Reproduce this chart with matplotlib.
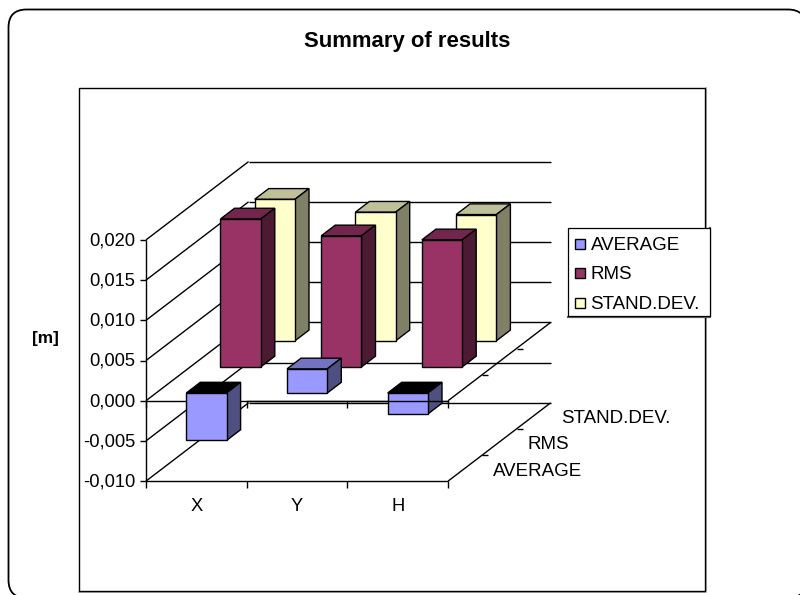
import matplotlib
matplotlib.use("Agg")
import matplotlib.pyplot as plt
from matplotlib.patches import FancyBboxPatch, Polygon, Rectangle

categories = ["X", "Y", "H"]
series_names = ["AVERAGE", "RMS", "STAND.DEV."]
average = [-0.0059, 0.0030, -0.0026]
rms = [0.0184, 0.0163, 0.0158]
stand_dev = [0.0176, 0.0160, 0.0157]
value_ticks = [-0.010, -0.005, 0.000, 0.005, 0.010, 0.015, 0.020]

face_colors = ["#9999FF", "#993366", "#FFFFCC"]
side_colors = ["#4F4F80", "#4D1A33", "#808066"]
top_colors = ["#7373BF", "#73264D", "#BFBF99"]

# Oblique projection of (category, depth, value) onto the canvas
ORIGIN_X, ZERO_Y = 146.0, 400.7
CATEGORY_W, PX_PER_UNIT = 100.7, 40.2 / 0.005
DEPTH_DX, DEPTH_DY = 34.2, -26.1

TICK_SIZE = 13.2
LABEL_SIZE = 13.5


def project(cat, depth, value):
    x = ORIGIN_X + cat * CATEGORY_W + depth * DEPTH_DX
    y = ZERO_Y - value * PX_PER_UNIT + depth * DEPTH_DY
    return x, y


plt.rcParams["font.family"] = "Liberation Sans"
fig = plt.figure(figsize=(8.0, 5.95), dpi=100)
ax = fig.add_axes([0, 0, 1, 1])
ax.set_xlim(0, 800)
ax.set_ylim(595, 0)
ax.axis("off")

# Rounded chart frame, running past the right and bottom edges, and inner plot frame
ax.add_patch(FancyBboxPatch((26.5, 27.5), 761.5, 552.5,
                            boxstyle="round,pad=18,rounding_size=18",
                            fc="white", ec="black", lw=1.3, zorder=0))
ax.plot([79, 705.8, 705.8], [592, 592, 88], color="#a0a0a0", lw=1.2, zorder=1)
ax.add_patch(Rectangle((79, 88), 626, 503, fc="white", ec="black", lw=1.0, zorder=1))

ax.text(407.5, 41.5, "Summary of results", ha="center", va="center", fontsize=15.9,
        fontweight="bold")
ax.text(45, 338, "[m]", ha="center", va="center", fontsize=12.4, fontweight="bold")

line = dict(color="black", lw=1.0, solid_capstyle="butt", zorder=2)
low, zero = value_ticks[0], 0.0
n_cat, n_ser = len(categories), len(series_names)

# Vertical axis, left wall diagonals and back wall gridlines
ax.plot(*zip(project(0, 0, low), project(0, 0, value_ticks[-1])), **line)
for v in value_ticks:
    ax.plot(*zip(project(0, 0, v), project(0, n_ser, v)), **line)
    ax.plot(*zip(project(0, n_ser, v), project(n_cat, n_ser, v)), **line)
    x, y = project(0, 0, v)
    ax.plot([x - 6, x], [y, y], **line)
    ax.text(x - 10.5, y + 1, f"{v:.3f}".replace(".", ","), ha="right", va="center",
            fontsize=TICK_SIZE)

# Floor and zero plane outlines with their ticks
for level in (low, zero):
    ax.plot(*zip(project(0, 0, level), project(n_cat, 0, level)), **line)
    ax.plot(*zip(project(n_cat, 0, level), project(n_cat, n_ser, level)), **line)
    for c in range(n_cat + 1):
        x, y = project(c, 0, level)
        ax.plot([x, x], [y, y + 7], **line)
    for d in range(1, n_ser):
        x, y = project(n_cat, d, level)
        ax.plot([x, x + 6], [y, y], **line)

for c, name in enumerate(categories):
    x, y = project(c + 0.5, 0, low)
    ax.text(x, y + 25, name, ha="center", va="center", fontsize=TICK_SIZE)

for d, name in enumerate(series_names):
    x, y = project(n_cat, d + 0.5, low)
    ax.text(x + 28, y + 3, name, ha="left", va="center", fontsize=LABEL_SIZE)


def draw_bar(cat, ser, value, zorder):
    """One 3D column: front, side and top faces from the baseline to value."""
    x0 = 0.30
    x1 = 0.70
    d0 = ser + 0.295
    d1 = ser + 0.705
    hi, lo = max(value, 0.0), min(value, 0.0)
    a, b = project(cat + x0, d0, hi), project(cat + x1, d0, hi)
    e, f = project(cat + x0, d0, lo), project(cat + x1, d0, lo)
    g, h = project(cat + x1, d1, hi), project(cat + x1, d1, lo)
    i = project(cat + x0, d1, hi)
    style = dict(ec="black", lw=1.0, joinstyle="miter", zorder=zorder)
    top = "black" if value < 0 else top_colors[ser]
    ax.add_patch(Polygon([a, b, g, i], fc=top, **style))
    ax.add_patch(Polygon([b, g, h, f], fc=side_colors[ser], **style))
    ax.add_patch(Polygon([a, b, f, e], fc=face_colors[ser], **style))


# Columns back to front; the front zero line runs over the H average column only
for ser, values in zip((2, 1), (stand_dev, rms)):
    for cat, value in enumerate(values):
        draw_bar(cat, ser, value, 3 + (2 - ser))
for cat, value in enumerate(average):
    draw_bar(cat, 0, value, 5 if cat else 7)
ax.plot(*zip(project(1, 0, zero), project(n_cat, 0, zero)), color="black", lw=1.0, zorder=6)

# Legend box
ax.plot([710, 710, 568], [227.7, 316.5, 316.5], color="#606060", lw=1.6, zorder=8)
ax.add_patch(Rectangle((568, 227.7), 142, 88.5, fc="white", ec="black", lw=0.9, zorder=8))
for ypos, name, color in zip((244, 273.3, 303), series_names, face_colors):
    ax.add_patch(Rectangle((575, ypos - 5), 10, 10, fc=color, ec="black", lw=1.0, zorder=9))
    ax.text(590.5, ypos + 1.5, name, ha="left", va="center", fontsize=LABEL_SIZE, zorder=9)

fig.savefig("out.png", dpi=100, facecolor="white")
